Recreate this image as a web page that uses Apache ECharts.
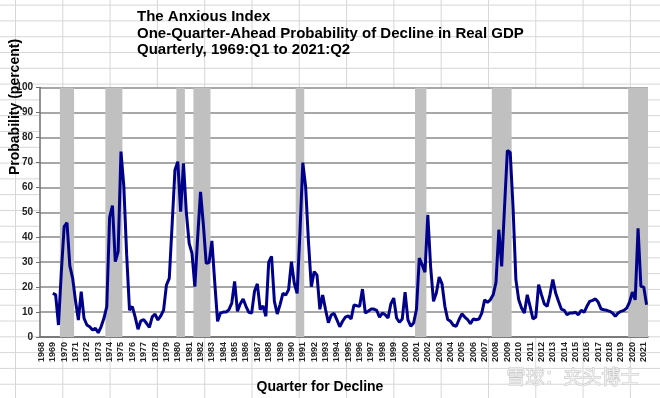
<!DOCTYPE html>
<html>
<head>
<meta charset="utf-8">
<script src="https://cdn.jsdelivr.net/npm/echarts@6/dist/echarts.min.js"></script>
<style>
  html, body {
    margin: 0;
    padding: 0;
  }
  body {
    width: 660px;
    height: 398px;
    background-color: #fff;
    /* spreadsheet cells behind the chart */
    background-image:
      linear-gradient(to right, #d6d6d6 1px, transparent 1px),
      linear-gradient(to bottom, #d6d6d6 1px, transparent 1px);
    background-size: 47.3px 15.8px;
    background-position: 15px 4.6px;
  }
  #chart {
    width: 660px;
    height: 398px;
  }
</style>
</head>
<body>
<div id="chart"></div>
<script>
// quarters shown on the axis: 1968Q1 .. 2021Q2
const firstYear = 1968
const lastYear = 2021
const lastQuarter = 2

// probability of decline (percent), 1969:Q1 .. 2021:Q2
const probability = [
  17.5, 17, 4.8, 26,        // 1969
  44.2, 45.8, 28.5, 23.5,   // 1970
  14.5, 6.8, 18.2, 7.5,     // 1971
  4.8, 4.1, 2.8, 3.5,       // 1972
  1.7, 4.1, 7.5, 12.2,      // 1973
  48, 52.7, 30.2, 34.2,     // 1974
  74.3, 60.5, 33, 10.8,     // 1975
  12.2, 8, 3.1, 6.5,        // 1976
  7, 5.5, 3.9, 8.1,         // 1977
  9.2, 6.8, 8.5, 10.8,      // 1978
  20.8, 23.5, 45, 66.9,     // 1979
  70.3, 50.2, 69.6, 50,     // 1980
  37.5, 33.5, 20.2, 40,     // 1981
  58.2, 45, 29.5, 29.8,     // 1982
  38.5, 22, 6.3, 9.6,       // 1983
  10, 10, 11, 13.6,         // 1984
  22.3, 10.3, 13.3, 15.2,   // 1985
  12.3, 9.9, 9.6, 18.3,     // 1986
  21.3, 11, 12.5, 8.3,      // 1987
  30, 32.3, 14.3, 9.2,      // 1988
  13, 17.5, 16.8, 19,       // 1989
  30.2, 21.5, 17.5, 42,     // 1990
  69.9, 60.2, 38, 20.2,     // 1991
  26.2, 24.8, 11.1, 16.8,   // 1992
  11, 5.7, 8.8, 9.5,        // 1993
  6.9, 4.1, 6.3, 8,         // 1994
  8.5, 7.2, 12.8, 12.5,     // 1995
  12.3, 19.2, 9.6, 10.3,    // 1996
  11.2, 11.2, 10.7, 7.9,    // 1997
  9.6, 8.9, 7.6, 13.3,      // 1998
  15.6, 7.6, 5.9, 7.2,      // 1999
  18, 6.9, 4.3, 5.6,        // 2000
  11, 31.6, 29, 26,         // 2001
  49, 28, 14.3, 17.6,       // 2002
  24, 21.3, 12.3, 7,        // 2003
  6.3, 4.7, 4.3, 7,         // 2004
  9.3, 8, 7, 5.3,           // 2005
  7.2, 6.9, 7.2, 9.6,       // 2006
  14.9, 13.9, 14.9, 16.9,   // 2007
  21.9, 43, 28.3, 52,       // 2008
  74.7, 74, 52, 23,         // 2009
  14.9, 11.6, 9.6, 16.9,    // 2010
  12.3, 7.2, 8, 21,         // 2011
  17, 13.3, 12.3, 17,       // 2012
  23, 17.6, 14.3, 11.2,     // 2013
  10.7, 8.9, 9.6, 9.6,      // 2014
  9.9, 8.9, 10.7, 9.9,      // 2015
  12.3, 14.3, 14.7, 15.3,   // 2016
  13.9, 11.2, 10.9, 10.7,   // 2017
  10.3, 9.6, 8.3, 9.6,      // 2018
  10.3, 10.7, 11.6, 14,     // 2019
  18, 14.9, 43.6, 20.3,     // 2020
  20, 12.9                  // 2021
]

// shaded recessions (peak .. trough, quarterly)
const recessions = [
  ['1969Q4', '1970Q4'],
  ['1973Q4', '1975Q1'],
  ['1980Q1', '1980Q3'],
  ['1981Q3', '1982Q4'],
  ['1990Q3', '1991Q1'],
  ['2001Q1', '2001Q4'],
  ['2007Q4', '2009Q2'],
  ['2019Q4', '2021Q2']
]

// category list
const quarters = []
for (let y = firstYear; y <= lastYear; y++) {
  for (let q = 1; q <= 4; q++) {
    if (y === lastYear && q > lastQuarter) break
    quarters.push(y + 'Q' + q)
  }
}

// 1968 has no observations
const lineData = quarters.map((k) => null)
const offset = quarters.indexOf('1969Q1')
probability.forEach((v, i) => { lineData[offset + i] = v })

// recession spans as category indices
const shadeData = recessions.map(([a, b]) => [quarters.indexOf(a), quarters.indexOf(b)])

const font = '"Liberation Sans", Arial, sans-serif'

const mChart = echarts.init(document.getElementById('chart'), null, { renderer: 'canvas' })

// one solid grey block per recession, full quarter width at both ends
const renderShade = (params, api) => {
  const top = api.coord([api.value(0), 100])
  const bottom = api.coord([api.value(1), 0])
  const bw = api.size([1, 0])[0]
  return {
    type: 'rect',
    shape: {
      x: top[0] - bw / 2,
      y: top[1],
      width: bottom[0] - top[0] + bw,
      height: bottom[1] - top[1]
    },
    style: { fill: '#c0c0c0' },
    silent: true
  }
}

const options = {
  animation: false,
  backgroundColor: 'transparent',
  title: {
    text: 'The Anxious Index\nOne-Quarter-Ahead Probability of Decline in Real GDP\nQuarterly, 1969:Q1 to 2021:Q2',
    left: 132,
    top: 4,
    textStyle: {
      fontFamily: font,
      fontSize: 15,
      fontWeight: 'bold',
      color: '#000',
      lineHeight: 16.5
    }
  },
  grid: {
    left: 40,
    right: 12,
    top: 87.5,
    bottom: 61,
    show: true,
    backgroundColor: '#fff',
    borderWidth: 0
  },
  xAxis: {
    type: 'category',
    data: quarters,
    boundaryGap: true,
    axisLine: {
      lineStyle: { color: '#6e6e6e', width: 1.5 }
    },
    axisTick: {
      interval: 0,
      length: 3,
      lineStyle: { color: '#6e6e6e' }
    },
    axisLabel: {
      interval: (index) => index % 4 === 0,
      formatter: (value) => value.slice(0, 4),
      rotate: 90,
      margin: 5,
      fontFamily: font,
      fontSize: 9,
      fontWeight: 'bold',
      color: '#222'
    },
    splitLine: { show: false }
  },
  yAxis: {
    type: 'value',
    min: 0,
    max: 100,
    interval: 10,
    axisLine: {
      show: true,
      lineStyle: { color: '#6e6e6e', width: 1.5 }
    },
    axisTick: {
      show: true,
      length: 4,
      lineStyle: { color: '#6e6e6e' }
    },
    axisLabel: {
      margin: 7,
      fontFamily: font,
      fontSize: 10,
      fontWeight: 'bold',
      color: '#222'
    },
    splitLine: {
      lineStyle: { color: '#8a8a8a', width: 1.5 }
    }
  },
  graphic: [
    {
      type: 'text',
      x: 15,
      y: 107,
      rotation: Math.PI / 2,
      style: {
        text: 'Probability (percent)',
        fontFamily: font,
        fontSize: 14,
        fontWeight: 'bold',
        fill: '#000',
        align: 'center',
        verticalAlign: 'middle'
      }
    },
    {
      type: 'text',
      x: 320,
      y: 387,
      style: {
        text: 'Quarter for Decline',
        fontFamily: font,
        fontSize: 14,
        fontWeight: 'bold',
        fill: '#000',
        align: 'center',
        verticalAlign: 'middle'
      }
    },
    {
      // faint watermark
      type: 'text',
      x: 573,
      y: 377,
      style: {
        text: '雪球：夹头博士',
        fontFamily: '"Noto Sans CJK SC", sans-serif',
        fontSize: 19,
        fill: 'rgba(255,255,255,0.6)',
        stroke: '#c8c8c8',
        lineWidth: 1,
        align: 'center',
        verticalAlign: 'middle'
      }
    }
  ],
  series: [
    {
      // recession shading
      type: 'custom',
      data: shadeData,
      renderItem: renderShade,
      encode: { x: [0, 1] },
      silent: true,
      clip: true,
      z: 1
    },
    {
      type: 'line',
      data: lineData,
      symbol: 'none',
      connectNulls: false,
      lineStyle: { color: '#00008b', width: 3 },
      z: 3
    }
  ]
}

mChart.setOption(options)
</script>
</body>
</html>
